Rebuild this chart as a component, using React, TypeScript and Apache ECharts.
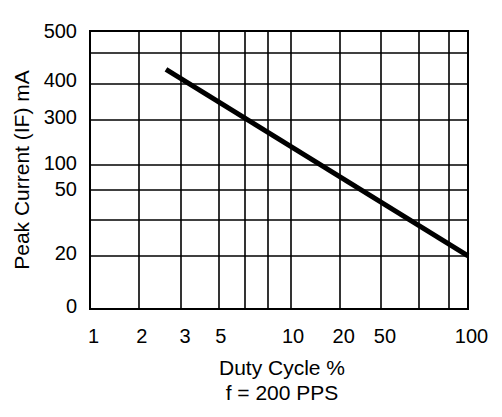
import React, { useEffect, useRef } from 'react';
import * as echarts from 'echarts';

// ---- data ----
const xTickLabels = ['1', '2', '3', '5', '10', '20', '50', '100'];
const xTickValues = [1, 2, 3, 5, 10, 20, 50, 100];
const yTickLabels = ['0', '20', '50', '100', '300', '400', '500'];
const yTickValues = [0, 20, 50, 100, 300, 400, 500];
const dutyCycle = [2.64, 100];
const peakCurrent = [426, 20];

// ---- the chart's non-uniform scale (layout, fraction of plot width/height) ----
const xTickPos = [0, 0.128, 0.242, 0.337, 0.528, 0.662, 0.771, 1];
const xMinorPos = [0.412, 0.473, 0.873, 0.948];
const yTickPos = [0, 0.191, 0.431, 0.515, 0.682, 0.814, 1];
const yMinorPos = [0.324, 0.922];
const yLabelPos = [0.011, 0.201, 0.432, 0.525, 0.691, 0.824, 1];

const FONT = '"Liberation Sans", Arial, Helvetica, sans-serif';

function piecewise(v: number, vals: number[], pos: number[]): number {
  if (v <= vals[0]) return pos[0];
  for (let i = 1; i < vals.length; i++) {
    if (v <= vals[i]) {
      const t = (v - vals[i - 1]) / (vals[i] - vals[i - 1]);
      return pos[i - 1] + t * (pos[i] - pos[i - 1]);
    }
  }
  return pos[pos.length - 1];
}

function nearestIndex(v: number, arr: number[]): number {
  let best = 0;
  for (let i = 1; i < arr.length; i++) {
    if (Math.abs(arr[i] - v) < Math.abs(arr[best] - v)) best = i;
  }
  return best;
}

export default function App() {
  const ref = useRef<HTMLDivElement>(null);
  useEffect(() => {
    if (!ref.current) return;
    const chart = echarts.init(ref.current, undefined, { renderer: 'svg' });
    const lineData = dutyCycle.map((d, i) => [
      piecewise(d, xTickValues, xTickPos),
      piecewise(peakCurrent[i], yTickValues, yTickPos),
    ]);
    const vLines = [...xTickPos.slice(1, -1), ...xMinorPos].map((v) => ({ xAxis: v }));
    const hLines = [...yTickPos.slice(1, -1), ...yMinorPos].map((v) => ({ yAxis: v }));
    chart.setOption({
      animation: false,
      backgroundColor: '#fff',
      grid: {
        left: 90,
        right: 34,
        top: 31,
        bottom: 108,
        show: true,
        borderColor: '#000',
        borderWidth: 2,
        backgroundColor: 'transparent',
        containLabel: false,
        outerBoundsMode: 'none',
      },
      xAxis: {
        type: 'value',
        min: 0,
        max: 1,
        axisLine: { show: false },
        axisTick: { show: false },
        splitLine: { show: false },
        axisLabel: {
          customValues: xTickPos,
          formatter: (v: number) => xTickLabels[nearestIndex(v, xTickPos)],
          color: '#000',
          fontSize: 20,
          fontFamily: FONT,
          margin: 17,
          padding: [0, 0, 0, 7],
        },
        name: 'Duty Cycle %\nf = 200 PPS',
        nameLocation: 'middle',
        nameGap: 46,
        nameTextStyle: {
          color: '#000',
          fontSize: 21,
          fontFamily: FONT,
          lineHeight: 25,
          padding: [0, 0, 0, 6],
        },
      },
      yAxis: {
        type: 'value',
        min: 0,
        max: 1,
        axisLine: { show: false },
        axisTick: { show: false },
        splitLine: { show: false },
        axisLabel: {
          customValues: yLabelPos,
          formatter: (v: number) => yTickLabels[nearestIndex(v, yLabelPos)],
          color: '#000',
          fontSize: 20,
          fontFamily: FONT,
          margin: 13,
        },
        name: 'Peak Current (IF) mA',
        nameLocation: 'middle',
        nameGap: 58,
        nameTextStyle: {
          color: '#000',
          fontSize: 21,
          fontFamily: FONT,
        },
      },
      series: [
        {
          type: 'line',
          data: lineData,
          symbol: 'none',
          clip: true,
          lineStyle: { color: '#000', width: 5, cap: 'butt' },
          markLine: {
            silent: true,
            symbol: ['none', 'none'],
            label: { show: false },
            lineStyle: { color: '#000', width: 1.6, type: 'solid' },
            emphasis: { disabled: true },
            data: [...vLines, ...hLines],
          },
        },
      ],
    });
    return () => chart.dispose();
  }, []);
  return (
    <div
      ref={ref}
      style={{ position: 'fixed', left: 0, top: 0, width: 502, height: 417, background: '#fff' }}
    />
  );
}
